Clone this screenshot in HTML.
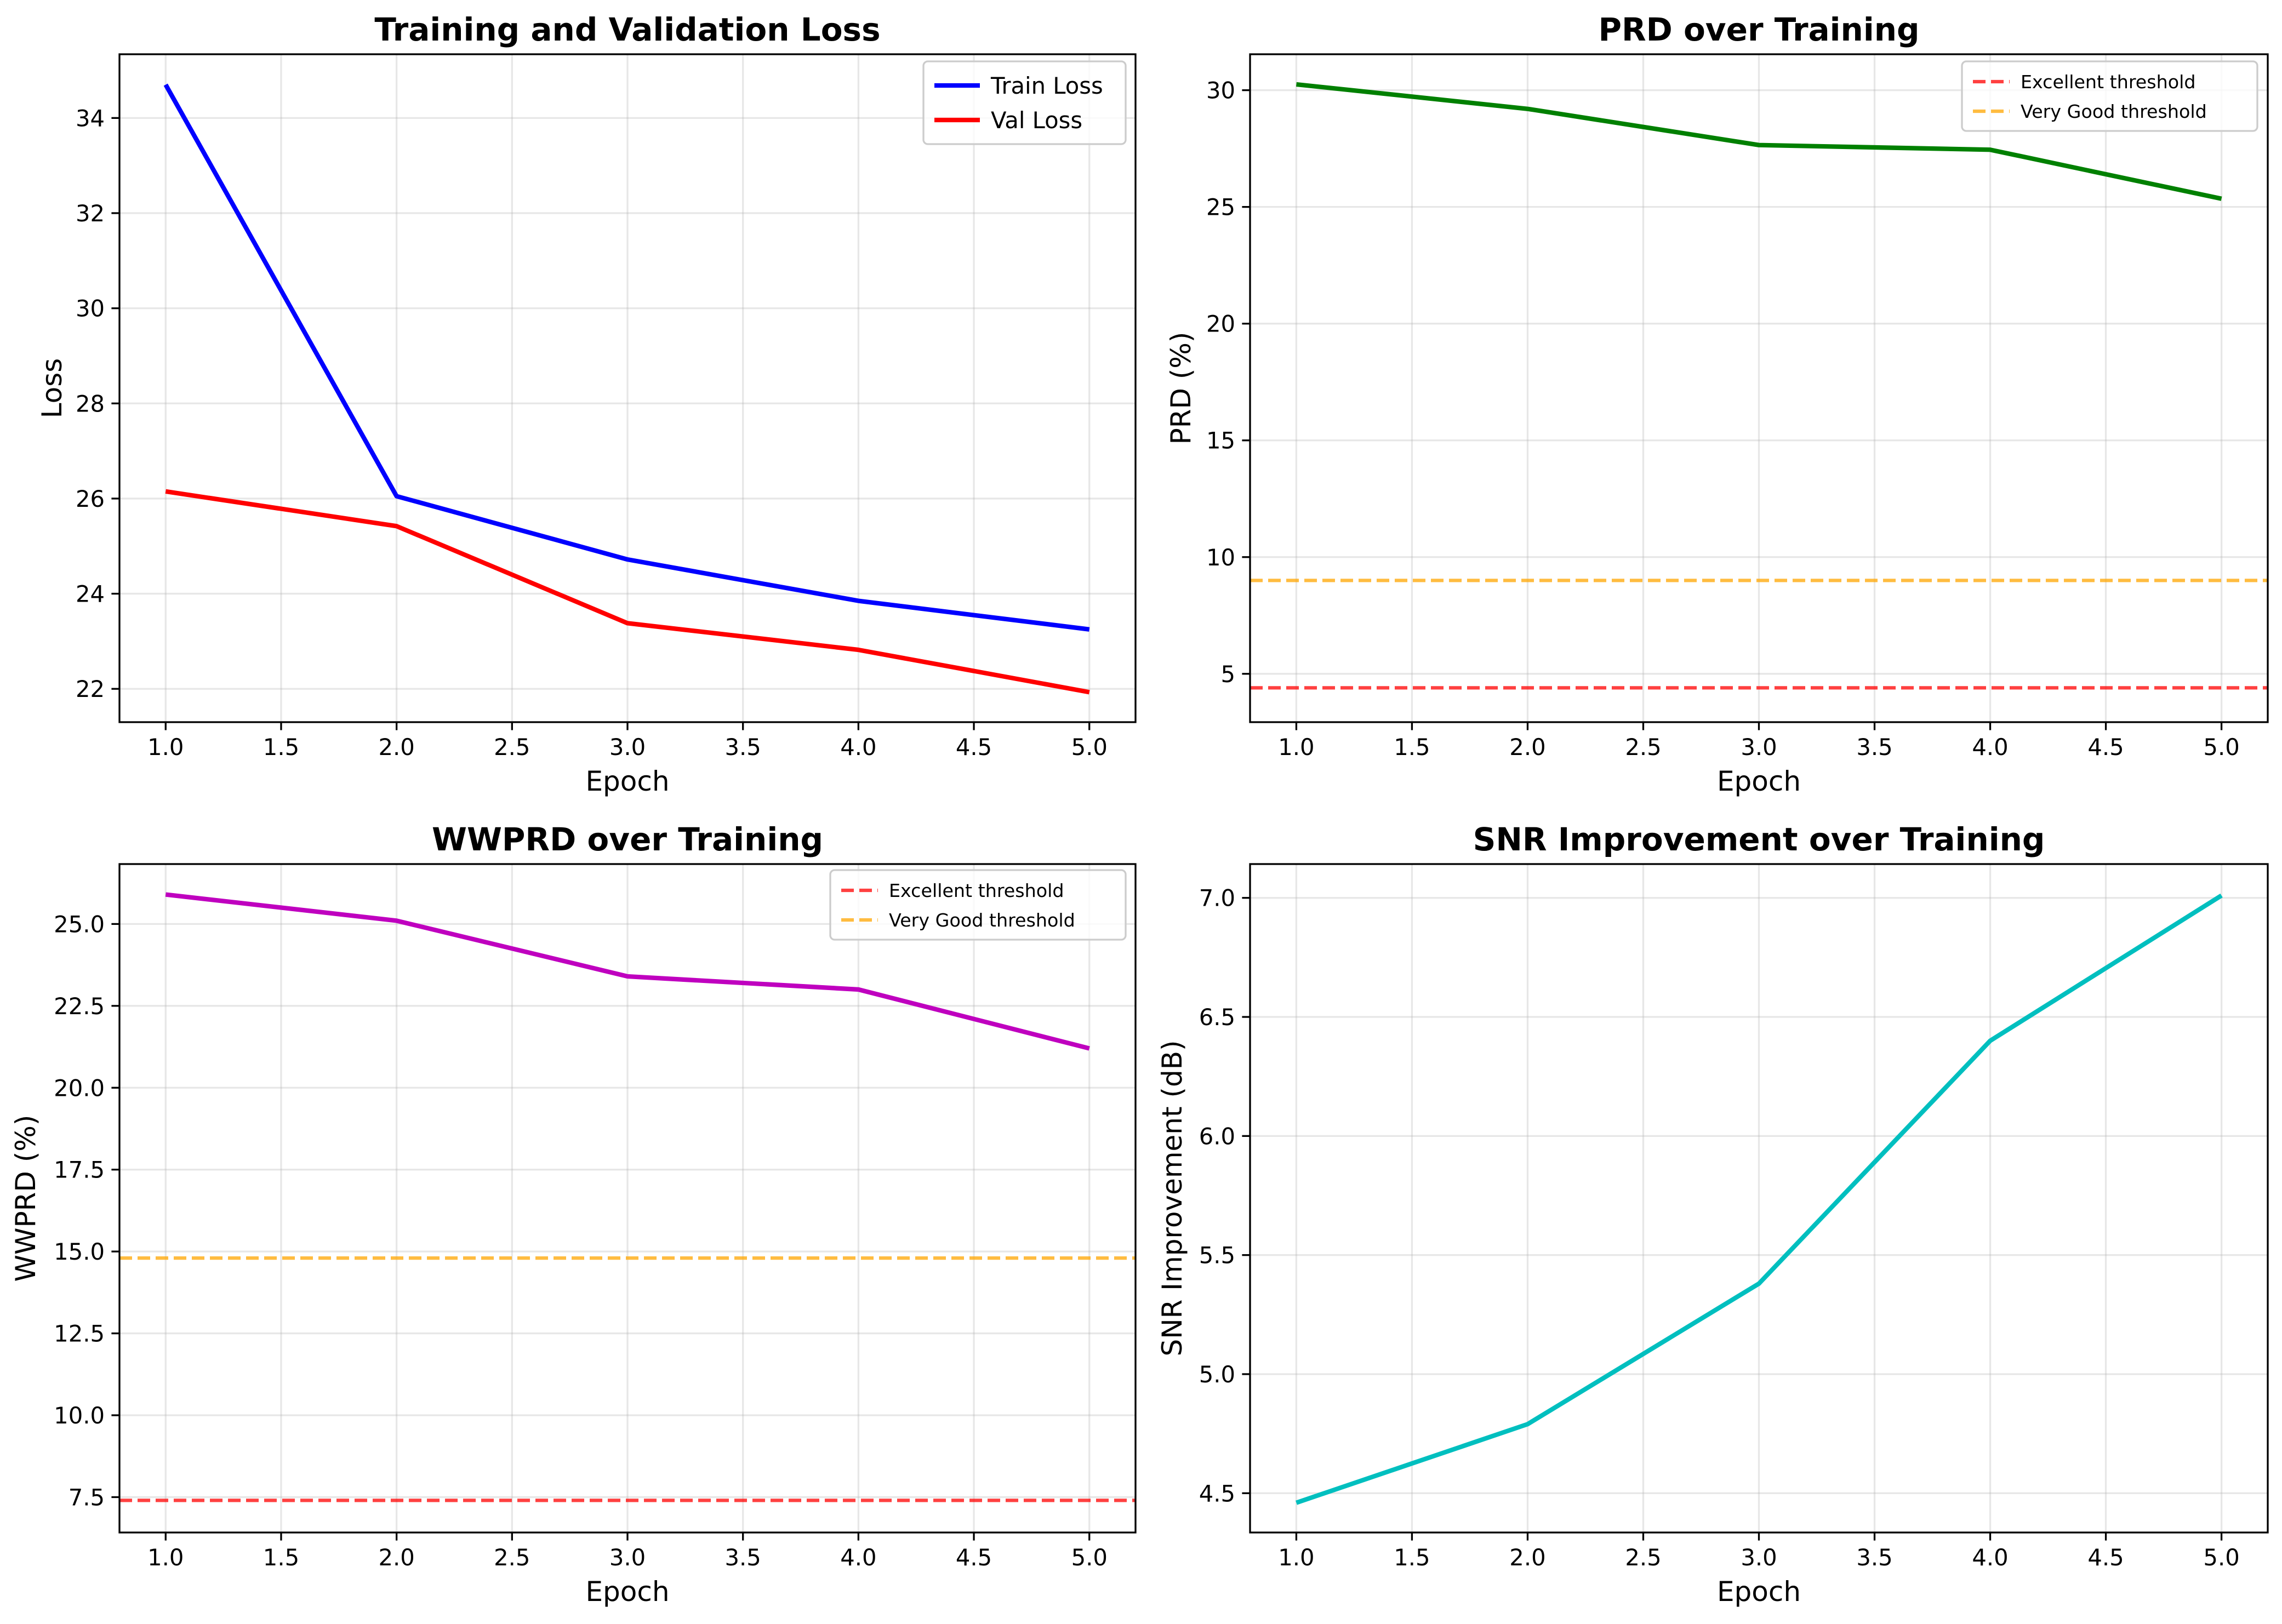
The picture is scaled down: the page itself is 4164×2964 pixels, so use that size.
<!DOCTYPE html>
<html><head><meta charset="utf-8"><style>
body{margin:0;background:#fff}
svg{display:block;font-family:"DejaVu Sans","Liberation Sans",sans-serif}
</style></head><body>
<svg id="fig" width="4164" height="2964" viewBox="0 0 4164 2964" xmlns="http://www.w3.org/2000/svg"></svg>
<script>
const epochs=[1,2,3,4,5];
const xTicks=[1.0,1.5,2.0,2.5,3.0,3.5,4.0,4.5,5.0];
const trainLoss=[34.7,26.05,24.72,23.85,23.25];
const valLoss=[26.15,25.42,23.38,22.82,21.93];
const prd=[30.25,29.2,27.65,27.45,25.35];
const wwprd=[25.9,25.1,23.4,23.0,21.2];
const snr=[4.46,4.79,5.38,6.40,7.01];
const prdThresholds=[4.4,9.0];
const wwprdThresholds=[7.4,14.8];
const lossTicks=[22,24,26,28,30,32,34];
const prdTicks=[5,10,15,20,25,30];
const wwprdTicks=[7.5,10.0,12.5,15.0,17.5,20.0,22.5,25.0];
const snrTicks=[4.5,5.0,5.5,6.0,6.5,7.0];

const NS="http://www.w3.org/2000/svg";
const svg=document.getElementById('fig');
function mk(tag,attrs,parent,text){const e=document.createElementNS(NS,tag);for(const k in attrs)e.setAttribute(k,attrs[k]);if(text!==undefined)e.textContent=text;(parent||svg).appendChild(e);return e;}

function panel(o){
  const g=mk('g',{});
  
  
  const X=v=>o.L+(v-0.8)/(4.4)*(o.R-o.L);
  const Y=v=>o.B-(v-o.ymin)/(o.ymax-o.ymin)*(o.B-o.T);
  xTicks.forEach(t=>{const l=mk('line',{x1:X(t),x2:X(t),y1:o.T,y2:o.B,stroke:'#b0b0b0','stroke-opacity':0.3,'stroke-width':3.3},g);
    });
  o.yt.forEach(t=>{const l=mk('line',{x1:o.L,x2:o.R,y1:Y(t),y2:Y(t),stroke:'#b0b0b0','stroke-opacity':0.3,'stroke-width':3.3},g);
    });
  (o.th||[]).forEach((v,i)=>{const l=mk('line',{x1:o.L,x2:o.R,y1:Y(v),y2:Y(v),stroke:i==0?'#ff0000':'#ffa500','stroke-opacity':0.75,'stroke-width':6.25,'stroke-dasharray':'23 10'},g);
    });
  o.series.forEach(s=>{const p=mk('polyline',{points:epochs.map((e,i)=>X(e)+','+Y(s.d[i])).join(' '),fill:'none',stroke:s.c,'stroke-width':8.3,'stroke-linejoin':'round'},g);
    });
  const f=mk('rect',{x:o.L,y:o.T,width:o.R-o.L,height:o.B-o.T,fill:'none',stroke:'#000','stroke-width':3.3},g);
  
  xTicks.forEach(t=>{mk('line',{x1:X(t),x2:X(t),y1:o.B,y2:o.B+14.6,stroke:'#000','stroke-width':3.3},g);
    const tx=mk('text',{x:X(t),y:o.B+60,'font-size':41.7,'text-anchor':'middle'},g,t.toFixed(1));
    });
  o.yt.forEach(t=>{mk('line',{x1:o.L-14.6,x2:o.L,y1:Y(t),y2:Y(t),stroke:'#000','stroke-width':3.3},g);
    const tx=mk('text',{x:o.L-27,y:Y(t)+15,'font-size':41.7,'text-anchor':'end'},g,o.fmt(t));
    });
  const ti=mk('text',{x:(o.L+o.R)/2,y:o.T-25,'font-size':58,'font-weight':'bold','text-anchor':'middle'},g,o.title);
  
  const xl=mk('text',{x:(o.L+o.R)/2,y:o.B+125,'font-size':50,'text-anchor':'middle'},g,'Epoch');
  
  const yl=mk('text',{x:0,y:0,'font-size':50,'text-anchor':'middle',transform:`translate(${o.yl},${(o.T+o.B)/2}) rotate(-90)`},g,o.ylabel);
  
  if(o.leg){const lg=o.leg;const bg=mk('g',{},g);
    
    mk('rect',{x:lg.x,y:lg.y,width:lg.w,height:lg.h,rx:8,fill:'#fff','fill-opacity':0.8,stroke:'#ccc','stroke-width':3.3},bg);
    lg.items.forEach((it,i)=>{const cy=lg.y+lg.pad+i*lg.sp;
      const ln=mk('line',{x1:lg.x+20,x2:lg.x+20+lg.ll,y1:cy,y2:cy,stroke:it.c,'stroke-width':it.dash?6.25:8.3,'stroke-opacity':it.dash?0.75:1,'stroke-dasharray':it.dash?'23 10':'none'},bg);
      
      const t=mk('text',{x:lg.x+40+lg.ll,y:cy+lg.fs*0.36,'font-size':lg.fs},bg,it.t);
      });
  }
}
const thLeg=[{t:'Excellent threshold',c:'#ff0000',dash:1},{t:'Very Good threshold',c:'#ffa500',dash:1}];
panel({name:'loss-panel',L:218,R:2072,T:99,B:1318,ymin:21.30,ymax:35.34,yt:lossTicks,fmt:t=>String(t),
  title:'Training and Validation Loss',ylabel:'Loss',yl:112,
  series:[{d:trainLoss,c:'#0000ff',n:'train-loss-line'},{d:valLoss,c:'#ff0000',n:'val-loss-line'}],
  leg:{x:1685,y:112,w:369,h:151,pad:44,sp:63,ll:83,fs:41.7,items:[{t:'Train Loss',c:'#0000ff'},{t:'Val Loss',c:'#ff0000'}]}});
panel({name:'prd-panel',L:2281,R:4138,T:99,B:1318,ymin:2.93,ymax:31.54,yt:prdTicks,fmt:t=>String(t),
  title:'PRD over Training',ylabel:'PRD (%)',yl:2172,
  series:[{d:prd,c:'#008000',n:'prd-line'}],th:prdThresholds,
  leg:{x:3580,y:112,w:539,h:127,pad:37,sp:54,ll:67,fs:33.3,items:thLeg}});
panel({name:'wwprd-panel',L:218,R:2072,T:1577,B:2797,ymin:6.42,ymax:26.83,yt:wwprdTicks,fmt:t=>t.toFixed(1),
  title:'WWPRD over Training',ylabel:'WWPRD (%)',yl:64,
  series:[{d:wwprd,c:'#bf00bf',n:'wwprd-line'}],th:wwprdThresholds,
  leg:{x:1515,y:1588,w:539,h:127,pad:37,sp:54,ll:67,fs:33.3,items:thLeg}});
panel({name:'snr-panel',L:2281,R:4138,T:1577,B:2797,ymin:4.335,ymax:7.142,yt:snrTicks,fmt:t=>t.toFixed(1),
  title:'SNR Improvement over Training',ylabel:'SNR Improvement (dB)',yl:2156,
  series:[{d:snr,c:'#00bfbf',n:'snr-line'}]});
</script>
</body></html>
